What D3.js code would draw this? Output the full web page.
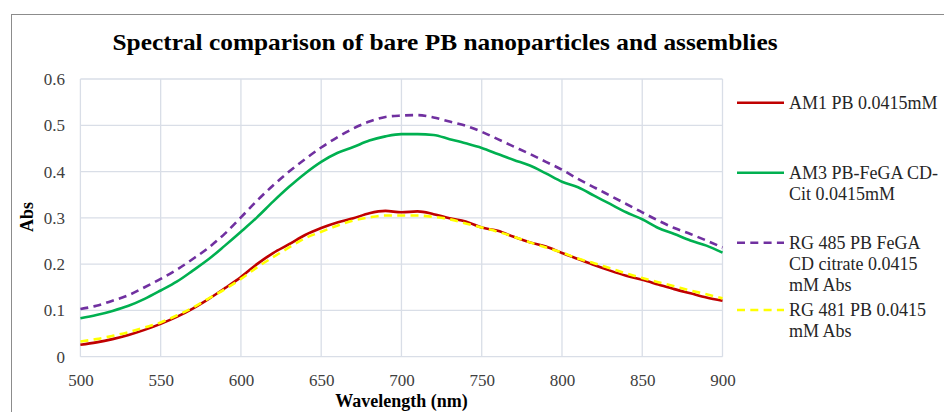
<!DOCTYPE html>
<html>
<head>
<meta charset="utf-8">
<script src="https://cdn.jsdelivr.net/npm/d3@7"></script>
<style>
  html, body { margin: 0; padding: 0; background: #fff; }
  svg { display: block; font-family: "Liberation Serif", "Times New Roman", serif; }
</style>
</head>
<body>
<svg id="chart" width="944" height="412"></svg>
<script>
// wavelength grid (nm)
const wavelengths = d3.range(500, 901, 10);

// series values, one per wavelength
const am1 = [0.026, 0.031, 0.038, 0.047, 0.058, 0.071, 0.086, 0.104, 0.125, 0.148,
             0.172, 0.200, 0.224, 0.243, 0.263, 0.278, 0.290, 0.299, 0.310, 0.315,
             0.312, 0.314, 0.308, 0.299, 0.292, 0.279, 0.272, 0.259, 0.247, 0.238,
             0.224, 0.211, 0.198, 0.186, 0.175, 0.166, 0.156, 0.146, 0.137, 0.128, 0.121];
const am3 = [0.083, 0.090, 0.099, 0.110, 0.125, 0.143, 0.162, 0.186, 0.211, 0.240,
             0.270, 0.301, 0.335, 0.367, 0.396, 0.421, 0.440, 0.453, 0.467, 0.476,
             0.481, 0.481, 0.479, 0.470, 0.461, 0.451, 0.438, 0.425, 0.413, 0.396,
             0.378, 0.366, 0.348, 0.330, 0.312, 0.297, 0.278, 0.265, 0.251, 0.240, 0.225];
const rg485 = [0.103, 0.110, 0.121, 0.133, 0.150, 0.168, 0.188, 0.211, 0.236, 0.266,
               0.301, 0.337, 0.370, 0.400, 0.427, 0.452, 0.474, 0.493, 0.508, 0.518,
               0.521, 0.522, 0.517, 0.508, 0.499, 0.486, 0.470, 0.454, 0.438, 0.421,
               0.404, 0.384, 0.366, 0.348, 0.330, 0.312, 0.294, 0.278, 0.265, 0.251, 0.236];
const rg481 = [0.033, 0.038, 0.045, 0.053, 0.063, 0.074, 0.089, 0.106, 0.126, 0.146,
               0.168, 0.193, 0.215, 0.236, 0.256, 0.270, 0.283, 0.294, 0.301, 0.305,
               0.305, 0.305, 0.302, 0.297, 0.288, 0.279, 0.270, 0.259, 0.247, 0.236,
               0.225, 0.212, 0.202, 0.191, 0.180, 0.170, 0.161, 0.152, 0.143, 0.135, 0.126];

const xTicks = [500, 550, 600, 650, 700, 750, 800, 850, 900];
const yTicks = [0, 0.1, 0.2, 0.3, 0.4, 0.5, 0.6];

const seriesNames = [
  ['AM1 PB 0.0415mM'],
  ['AM3 PB-FeGA CD-', 'Cit 0.0415mM'],
  ['RG 485 PB FeGA', 'CD citrate 0.0415', 'mM Abs'],
  ['RG 481 PB 0.0415', 'mM Abs']
];
const seriesValues = [am1, am3, rg485, rg481];
const seriesColors = ['#c00000', '#00b050', '#7030a0', '#ffff00'];
const seriesDashes = [null, null, '8,5.3', '8,5.3'];

const svg = d3.select('#chart');

// outer chart border
svg.append('rect')
  .attr('x', 11.5).attr('y', 14.5)
  .attr('width', 960).attr('height', 420)
  .attr('fill', 'none')
  .attr('stroke', '#8c8c8c')
  .attr('stroke-width', 1);

const plot = { left: 80.4, right: 722.5, top: 79, bottom: 356.7 };

const x = d3.scaleLinear().domain([500, 900]).range([plot.left, plot.right]);
const y = d3.scaleLinear().domain([0, 0.6]).range([plot.bottom, plot.top]);

// gridlines
const grid = svg.append('g');
grid.selectAll('line.h')
  .data(yTicks)
  .join('line')
    .attr('x1', plot.left).attr('x2', plot.right)
    .attr('y1', d => y(d)).attr('y2', d => y(d))
    .attr('stroke', '#d9dee7').attr('stroke-width', 1.3);
grid.selectAll('line.v')
  .data(xTicks)
  .join('line')
    .attr('y1', plot.top).attr('y2', plot.bottom)
    .attr('x1', d => x(d)).attr('x2', d => x(d))
    .attr('stroke', '#d9dee7').attr('stroke-width', 1.3);

// axes (labels only)
const xAxisG = svg.append('g')
  .attr('transform', `translate(0,${plot.bottom})`)
  .call(d3.axisBottom(x).tickValues(xTicks).tickSize(0).tickPadding(16.9).tickFormat(d3.format('d')));
const yAxisG = svg.append('g')
  .attr('transform', `translate(${plot.left},0)`)
  .call(d3.axisLeft(y).tickValues(yTicks).tickSize(0).tickPadding(15.4).tickFormat(d => d === 0 ? '0' : d3.format('.1f')(d)));

[xAxisG, yAxisG].forEach(a => {
  a.select('.domain').remove();
  a.selectAll('text')
    .attr('font-family', '"Liberation Serif", "Times New Roman", serif')
    .attr('font-size', 17)
    .attr('fill', '#404040');
});

// series lines
const line = d3.line()
  .x((d, i) => x(wavelengths[i]))
  .y(d => y(d))
  .curve(d3.curveMonotoneX);

seriesValues.forEach((vals, k) => {
  svg.append('path')
    .datum(vals)
    .attr('d', line)
    .attr('fill', 'none')
    .attr('stroke', seriesColors[k])
    .attr('stroke-width', 2.6)
    .attr('stroke-dasharray', seriesDashes[k])
    .attr('stroke-linejoin', 'round');
});

// title
svg.append('text')
  .attr('x', 445).attr('y', 50)
  .attr('text-anchor', 'middle')
  .attr('font-size', 23)
  .attr('font-weight', 'bold')
  .attr('fill', '#000')
  .attr('textLength', 665)
  .attr('lengthAdjust', 'spacingAndGlyphs')
  .text('Spectral comparison of bare PB nanoparticles and assemblies');

// axis titles
svg.append('text')
  .attr('x', (plot.left + plot.right) / 2).attr('y', 407)
  .attr('text-anchor', 'middle')
  .attr('font-size', 18)
  .attr('font-weight', 'bold')
  .attr('fill', '#000')
  .text('Wavelength (nm)');

svg.append('text')
  .attr('transform', 'translate(33,217) rotate(-90)')
  .attr('text-anchor', 'middle')
  .attr('font-size', 18)
  .attr('font-weight', 'bold')
  .attr('fill', '#000')
  .text('Abs');

// legend
const legendY = [102.7, 172.7, 242.7, 310];
const legend = svg.append('g');
seriesNames.forEach((lines, k) => {
  legend.append('line')
    .attr('x1', 737).attr('x2', 784)
    .attr('y1', legendY[k]).attr('y2', legendY[k])
    .attr('stroke', seriesColors[k])
    .attr('stroke-width', 2.6)
    .attr('stroke-dasharray', seriesDashes[k]);
  legend.append('text')
    .attr('x', 789).attr('y', legendY[k] + 6)
    .attr('font-size', 18)
    .attr('fill', '#262626')
    .selectAll('tspan')
    .data(lines)
    .join('tspan')
      .attr('x', 789)
      .attr('dy', (d, i) => i === 0 ? 0 : 21.2)
      .text(d => d);
});
</script>
</body>
</html>
